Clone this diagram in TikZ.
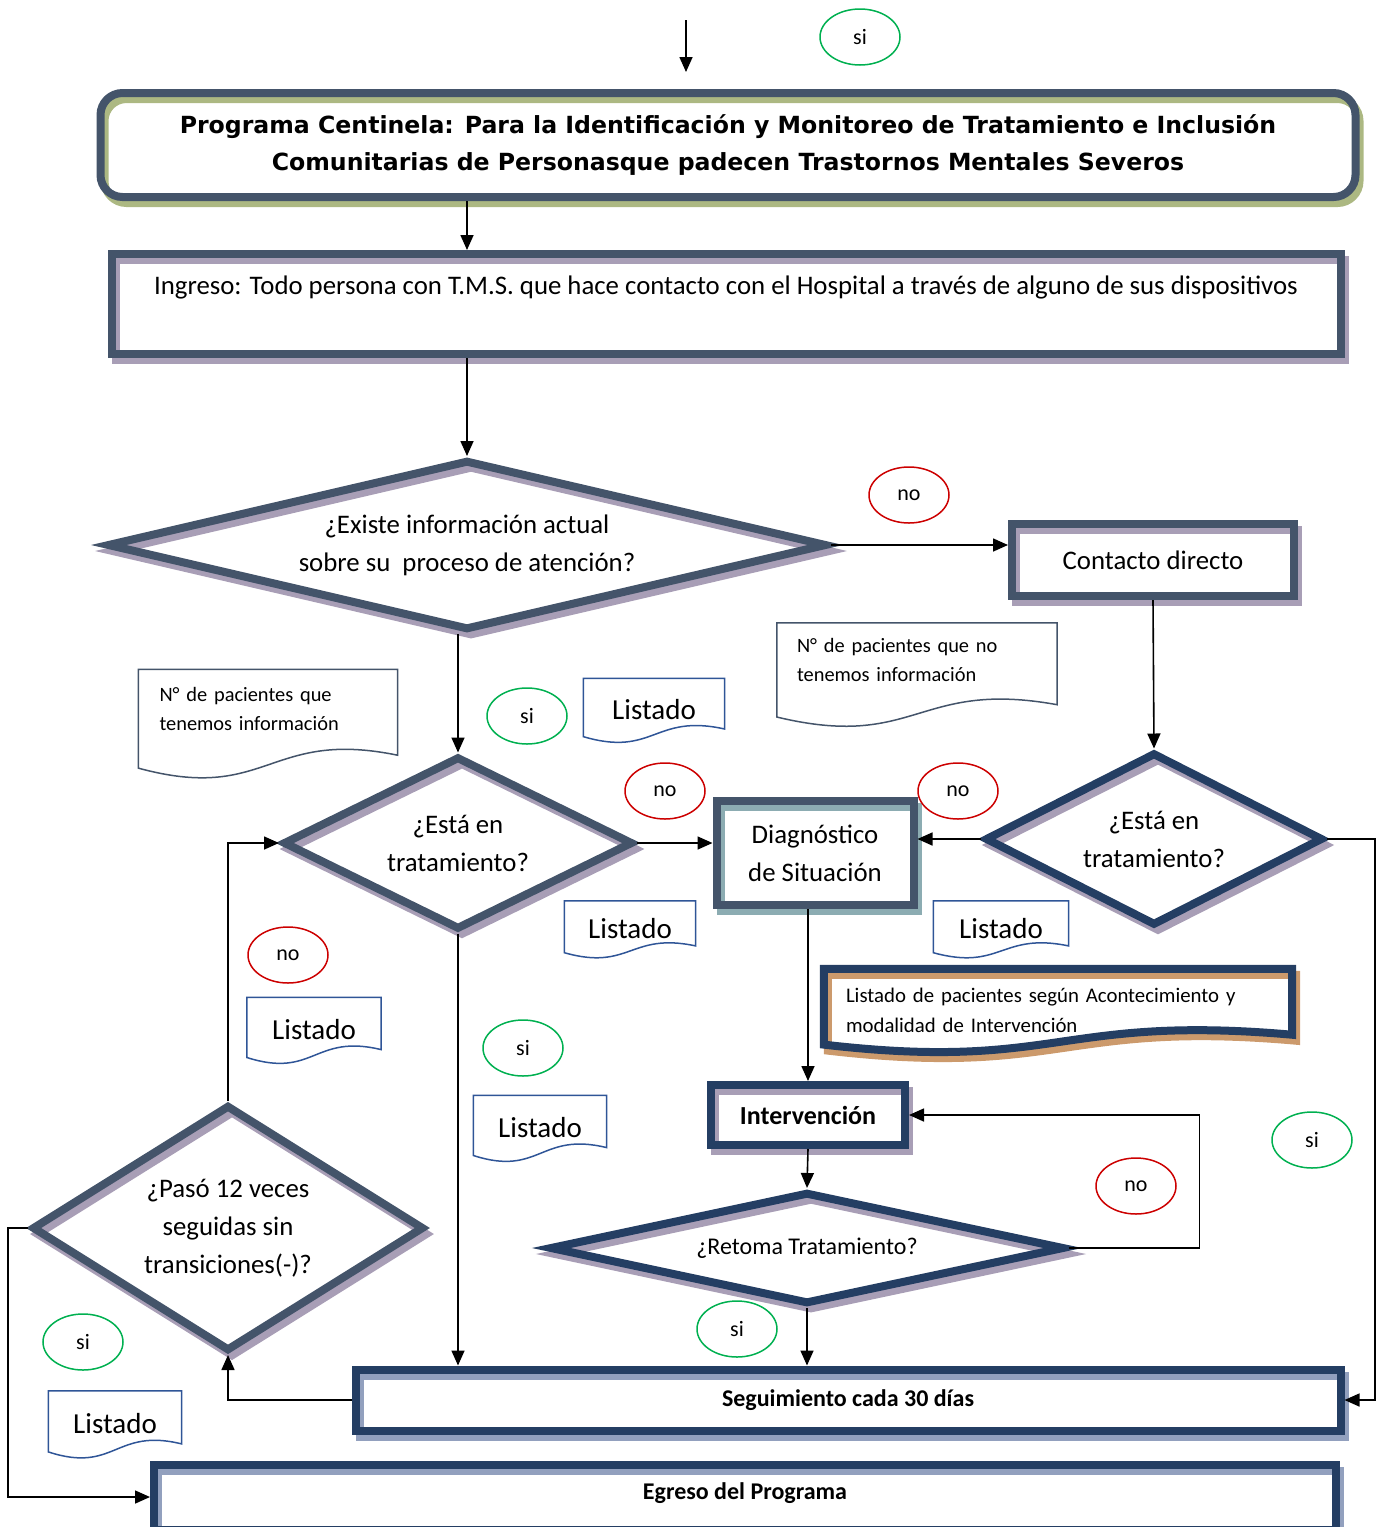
\documentclass[tikz,border=0pt]{standalone}
\usepackage{fontspec}
\setmainfont{Carlito}
\newfontfamily\headfont{DejaVu Sans}
\usetikzlibrary{shapes.geometric, arrows.meta, calc, shadows}
\definecolor{slate}{RGB}{68,84,106}
\definecolor{navy}{RGB}{36,62,99}
\definecolor{docblue}{RGB}{47,85,151}
\definecolor{sigreen}{RGB}{0,176,80}
\definecolor{nored}{RGB}{204,0,0}
\definecolor{shpurple}{RGB}{168,158,182}
\definecolor{sholive}{RGB}{172,184,130}
\definecolor{shteal}{RGB}{140,172,178}
\definecolor{shbrown}{RGB}{204,154,108}
\definecolor{shblue}{RGB}{146,160,190}
\tikzset{
procbox/.style={shape=rectangle, draw=#1, line width=8pt, inner sep=0, align=center, font=\fontsize{26.8}{38}\selectfont}, procbox/.default=slate,
decision/.style={shape=diamond, draw=#1, line width=8pt, inner sep=0, align=center, font=\fontsize{26.8}{38}\selectfont}, decision/.default=slate,
shd/.style={drop shadow={shadow xshift=4pt, shadow yshift=-6pt, fill=none, draw=#1, line width=8pt, opacity=1}}, shd/.default=shpurple,
bub/.style={shape=ellipse, line width=1.5pt, minimum width=80, minimum height=56, inner sep=0, font=\fontsize{22}{22}\selectfont},
sibub/.style={bub, draw=sigreen}, nobub/.style={bub, draw=nored},
listdoc/.style={inner sep=0, align=left, font=\fontsize{29}{29}\selectfont},
notedoc/.style={listdoc, font=\fontsize{20.4}{29}\selectfont},
thindoc/.style={draw=docblue, line width=1.5pt}, greydoc/.style={draw=slate, line width=1.5pt},
thickdoc/.style={draw=navy, line width=8pt, shd=shbrown},
arr/.style={-{Triangle[length=15pt, width=13pt]}, line width=1.6pt}}
\begin{document}
\begin{tikzpicture}[x=1pt, y=-1pt]
\useasboundingbox (0,0) rectangle (1383,1527);
\coordinate (start) at (686,20);
\coordinate (start-end) at (686,72);
\node [procbox, shd=sholive, rounded corners=22pt, minimum width=1255, minimum height=104, font=\headfont\bfseries\fontsize{23.6}{37}\selectfont] at (728,145) (title) {Programa Centinela: Para la Identificación y Monitoreo de Tratamiento e Inclusión\\Comunitarias de Personasque padecen Trastornos Mentales Severos};
\node [procbox, shd, minimum width=1229, minimum height=100] at (726,304) (ingreso) {Ingreso: Todo persona con T.M.S. que hace contacto con el Hospital a través de alguno de sus dispositivos\\\mbox{}};
\node [decision, shd, aspect=4.24, minimum width=720, minimum height=170] at (467,545) (d1) {¿Existe información actual\\sobre su\ \ proceso de atención?};
\node [procbox, shd, minimum width=282, minimum height=72] at (1153,560) (contacto) {Contacto directo};
\node [decision, shd, aspect=2.02, minimum width=350, minimum height=173] at (458,843) (d2) {¿Está en\\tratamiento?};
\node [procbox, shd=shteal, minimum width=197, minimum height=104] at (815,853) (diag) {Diagnóstico\\de Situación};
\node [decision=navy, shd, aspect=1.95, minimum width=338, minimum height=173] at (1154,839) (d3) {¿Está en\\tratamiento?};
\node [procbox=navy, shd, minimum width=194, minimum height=60, font=\bfseries\fontsize{26}{26}\selectfont] at (808,1115) (interv) {Intervención};
\node [decision=navy, shd, aspect=4.6, minimum width=515, minimum height=112, font=\fontsize{24}{24}\selectfont] at (807,1248) (d4) {¿Retoma Tratamiento?};
\node [procbox=navy, shd=shblue, minimum width=985, minimum height=61, font=\bfseries\fontsize{24}{24}\selectfont] at (848,1400) (seguim) {Seguimiento cada 30 días};
\node [decision, shd, aspect=1.59, minimum width=392, minimum height=246] at (228,1228) (d5) {¿Pasó 12 veces\\seguidas sin\\transiciones(-)?};
\node [procbox=navy, shd=shblue, minimum width=1182, minimum height=65, font=\bfseries\fontsize{24}{24}\selectfont] at (745,1497) (egreso) {Egreso del Programa\\[-12pt]\mbox{}};

\node [notedoc, minimum width=280, minimum height=102, text width=240] at (917,674) (noinfo) {N° de pacientes que no\\tenemos información\\\mbox{}};
\node [notedoc, minimum width=259, minimum height=107, text width=217] at (268,723) (hasinfo) {N° de pacientes que\\tenemos información\\\mbox{}};
\node [notedoc, font=\fontsize{20.8}{30}\selectfont, minimum width=468, minimum height=82, text width=424] at (1058,1010) (listpac) {Listado de pacientes según Acontecimiento y\\modalidad de Intervención};
\foreach \lx/\ly/\lw/\lh [count=\k] in {654/710/141/63, 630/929/131/56, 1001/929/135/56, 314/1030/134/65, 540/1128/133/65, 115/1424/133/66}
  \node [listdoc, minimum width=\lw, minimum height=\lh] at (\lx,\ly) (lst-\k) {Listado};
\foreach \d/\s in {lst-1/thindoc, lst-2/thindoc, lst-3/thindoc, lst-4/thindoc, lst-5/thindoc, lst-6/thindoc, noinfo/greydoc, hasinfo/greydoc, listpac/thickdoc}
  \draw [\s] let \p1=(\d.south west), \p2=(\d.north east), \n1={\x2-\x1}, \n2={\y2-\y1} in
    (\x1,\y2) -- (\x2,\y2) -- (\x2,\y1+0.2*\n2)
    .. controls (\x1+0.5*\n1,\y1+0.45*\n2) and (\x1+0.5*\n1,\y1-0.25*\n2) .. (\x1,\y1+0.08*\n2) -- cycle;

\foreach \bx/\by/\bl [count=\k] in {860/37/si, 909/495/no, 527/716/si, 665/791/no, 958/791/no, 288/955/no, 523/1048/si, 1312/1140/si, 1136/1186/no, 737/1329/si, 83/1342/si}
  \node [\bl bub] at (\bx,\by) (\bl-\k) {\bl};

\draw [arr] (start) -- (start-end);
\draw [arr] (title.south -| d1.north) -- (ingreso.north -| d1.north);
\draw [arr] (ingreso.south -| d1.north) -- (d1.north);
\draw [arr] (d1.east) -- (d1.east -| contacto.west);
\draw [arr] (contacto.south) -- (d3.north);
\draw [arr] (d1.south -| d2.north) -- (d2.north);
\draw [arr] (d2.east) -- (d2.east -| diag.west);
\draw [arr] (d3.west) -- (d3.west -| diag.east);
\draw [arr] (d3.east) -- ++(48,0) |- (seguim.east);
\draw [arr] (diag.south -| interv.north) -- (interv.north);
\draw [arr] (interv.south) -- (d4.north);
\draw [arr] (d4.east) -- ++(131,0) |- (interv.east);
\draw [arr] (d4.south) -- (d4.south |- seguim.north);
\draw [arr] (d2.south) -- (d2.south |- seguim.north);
\draw [arr] (seguim.west) -| (d5.south);
\draw [arr] (d5.north) |- (d2.west);
\draw [arr] (d5.west) -- ++(-20,0) |- (egreso.west);
\end{tikzpicture}
\end{document}
